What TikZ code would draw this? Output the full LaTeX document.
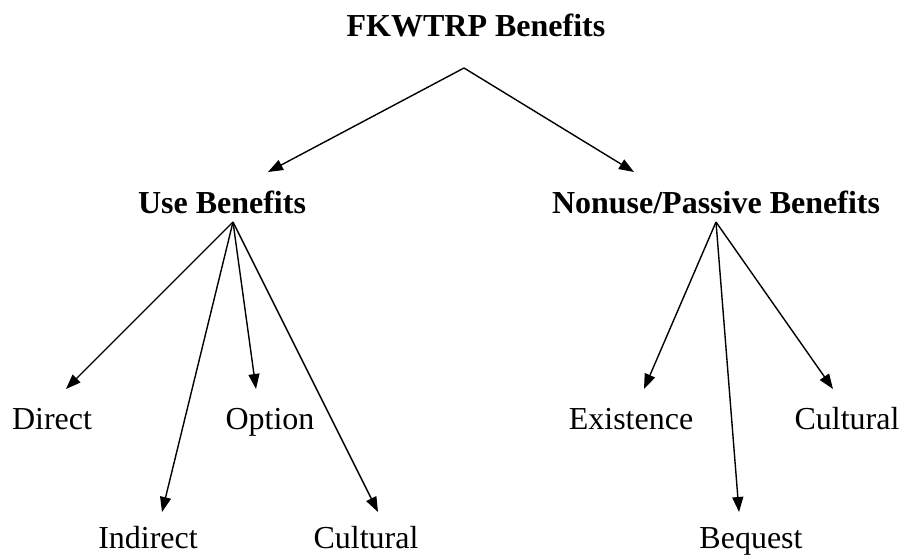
\documentclass[tikz,border=0pt]{standalone}
\usepackage{fontspec}
\setmainfont{Liberation Serif}
\usetikzlibrary{arrows,arrows.meta,positioning}

\begin{document}
\begin{tikzpicture}[x=1pt, y=-1pt,
    txt/.style={inner sep=0pt, anchor=base, font=\fontsize{32}{38}\selectfont},
    hd/.style={inner sep=0pt, anchor=base, font=\bfseries\fontsize{32}{38}\selectfont},
    link/.style={-{Triangle[length=15pt,width=11pt]}, line width=1.4pt}]
      \useasboundingbox (0,0) rectangle (899,554);

      % Define nodes
      \node[hd] (fkw) at (476,36) {FKWTRP Benefits};
      \node[hd] (use) at (222,213) {Use Benefits};
      \node[hd] (non) at (716,213) {Nonuse/Passive Benefits};

      \node[txt] (dir) at (52,429) {Direct};
      \node[txt] (opt) at (270,429) {Option};
      \node[txt] (ind) at (148,548) {Indirect};
      \node[txt] (cul1) at (366,548) {Cultural};
      \node[txt] (exi) at (631,429) {Existence};
      \node[txt] (cul2) at (847,429) {Cultural};
      \node[txt] (beq) at (751,548) {Bequest};

      % Edge ends
      \coordinate (fkw-out) at (464,68);
      \coordinate (use-out) at (233,222);
      \coordinate (non-out) at (716,222);
      \coordinate (use-in) at (268,172);
      \coordinate (non-in) at (634,172);
      \coordinate (dir-in) at (66,389);
      \coordinate (opt-in) at (256,389);
      \coordinate (ind-in) at (162,512);
      \coordinate (cul1-in) at (378,512);
      \coordinate (exi-in) at (644,389);
      \coordinate (cul2-in) at (833,389);
      \coordinate (beq-in) at (739,512);

      % Draw edges
      \draw[link] (fkw-out) -- (use-in);
      \draw[link] (fkw-out) -- (non-in);
      \draw[link] (use-out) -- (dir-in);
      \draw[link] (use-out) -- (opt-in);
      \draw[link] (use-out) -- (ind-in);
      \draw[link] (use-out) -- (cul1-in);
      \draw[link] (non-out) -- (exi-in);
      \draw[link] (non-out) -- (cul2-in);
      \draw[link] (non-out) -- (beq-in);
    \end{tikzpicture}
\end{document}
